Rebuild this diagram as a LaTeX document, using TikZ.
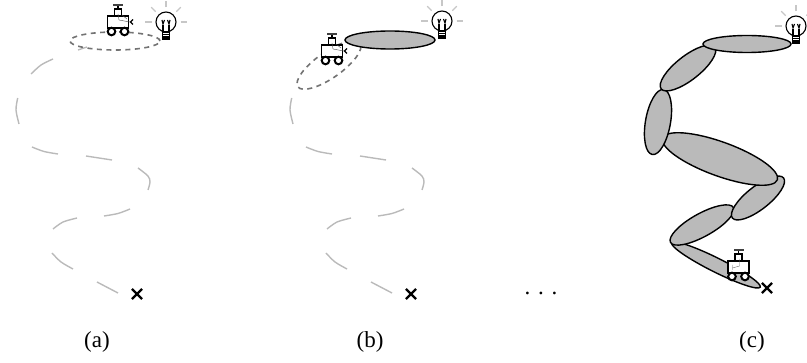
\documentclass[tikz,border=0pt]{standalone}
\usepackage{fontspec}
\setmainfont{Liberation Serif}
\usetikzlibrary{shapes.geometric, shapes.misc}

\tikzset{
  robot/.pic={
    \draw[robotline, fill=white] (-10.5,-12) rectangle (10.5,0);
    \draw[robotline, fill=white] (-3.5,-19) rectangle (3.5,-12);
    \draw[robotline] (0,-19) -- (0,-21.5);
    \fill[black!75] (-5,-23.5) rectangle (5,-21.5);
    \draw[wheel] (-6.5,3.5) circle (3.8);
    \draw[wheel] (6.5,3.5) circle (3.8);
  },
  armout/.pic={
    \draw[thin, black!70] (0,-14) -- (1,-8) -- (9,-6.5) -- (12,-6);
    \draw[thin, black!70] (9,-9) -- (4,-13);
    \draw[robotline] (15,-8.5) -- (12.5,-6) -- (15,-3.5);
  },
  armin/.pic={
    \draw[thin, black!60] (1,-14) -- (1,-7) -- (-6,-5) (-6,-8) -- (-6,-3);
  },
  bulb/.pic={
    \foreach \ang in {0,45,90,135,180}
      \draw[ray] (\ang:-14.5) -- (\ang:-21);
    \draw[bulbline, fill=white] (0,0) circle (10);
    \draw[bulbline] (-3,3) -- (-3,10) (3,3) -- (3,10);
    \draw[bulbline] (-4,-2) -- (-3,2) -- (-1.5,-2) (4,-2) -- (3,2) -- (1.5,-2);
    \draw[bulbline, fill=white] (-3.5,10) rectangle (3.5,17);
    \draw[bulbline] (-3.5,12.5) -- (3.5,12.5) (-3.5,15) -- (3.5,15);
  },
  pics/trajectory/.style={code={
    \draw[trail] plot[smooth] coordinates {(17.7,98) (16,110) (19,124)};
    \draw[trail] plot[smooth] coordinates {(32,147) (44,151.5) (58,154)};
    \draw[trail] plot[smooth] coordinates {(86,156) (99,158) (112,160)};
    \draw[trail] plot[smooth] coordinates {(138,168) (148,176) (150,182) (148,190)};
    \draw[trail] plot[smooth] coordinates {(130,209) (118,213.5) (104,216)};
    \draw[trail] plot[smooth] coordinates {(77,218) (63,222) (53,229)};
    \draw[trail] plot[smooth] coordinates {(52,253) (61,262) (73,269)};
    \draw[trail] plot[smooth] coordinates {(97,282) (118,293)};
  }},
}

\begin{document}
\begin{tikzpicture}[x=1pt, y=-1pt,
    trail/.style={line width=1.4pt, draw=black!27},
    robotline/.style={line width=1.2pt, draw=black},
    wheel/.style={line width=2pt, draw=black, fill=white},
    bulbline/.style={line width=1.1pt, draw=black},
    ray/.style={line width=1.1pt, draw=black!22},
    region/.style={ellipse, draw=black, line width=1.4pt, fill=black!27, inner sep=0pt},
    frontier/.style={ellipse, draw=black!55, line width=1.6pt, dash pattern=on 5pt off 4.5pt, inner sep=0pt},
    goal/.style={cross out, draw=black, line width=2.2pt, minimum size=8pt, inner sep=0pt},
    caption/.style={font=\fontsize{23}{25}\selectfont}
  ]
    \useasboundingbox (0,0) rectangle (807,363);

    \pic at (0,0) {trajectory};
    \draw[trail] plot[smooth] coordinates {(53,59) (41,65) (31,74)};
    \draw[trail] (78,50) -- (87,47);
    \node[frontier, minimum width=90pt, minimum height=18pt] (fronta) at (115,41) {};
    \pic at (118,28) {robot};
    \pic at (118,28) {armout};
    \pic at (166,22) {bulb};
    \node[goal] (goala) at (137,294) {};
    \node[caption] (capa) at (97,342) {(a)};

    \pic at (274,0) {trajectory};
    \node[frontier, minimum width=76pt, minimum height=26pt, rotate=35] (frontb) at (329,65) {};
    \node[region, minimum width=90pt, minimum height=18pt] (regb) at (390,40) {};
    \pic at (332,57) {robot};
    \pic at (332,57) {armout};
    \pic at (442,21) {bulb};
    \node[goal] (goalb) at (411,294) {};
    \node[caption] (capb) at (370,342) {(b)};

    \node[caption] (dots) at (541,293) {. . .};

    \node[region, minimum width=99pt, minimum height=14pt, rotate=-26.6] (regg) at (716,265) {};
    \node[region, minimum width=72pt, minimum height=23pt, rotate=29] (regf) at (702,225) {};
    \node[region, minimum width=65pt, minimum height=23pt, rotate=38] (rege) at (758,198) {};
    \node[region, minimum width=122pt, minimum height=34pt, rotate=-20] (regd) at (720,159) {};
    \node[region, minimum width=66pt, minimum height=25pt, rotate=80] (regc) at (658,122) {};
    \node[region, minimum width=68pt, minimum height=24pt, rotate=38] (regb2) at (688,68) {};
    \node[region, minimum width=88pt, minimum height=17pt] (rega) at (747,44) {};
    \pic at (738.5,273) {robot};
    \pic at (738.5,273) {armin};
    \pic at (796,26) {bulb};
    \node[goal] (goalc) at (767,288) {};
    \node[caption] (capc) at (752,342) {(c)};
\end{tikzpicture}
\end{document}
